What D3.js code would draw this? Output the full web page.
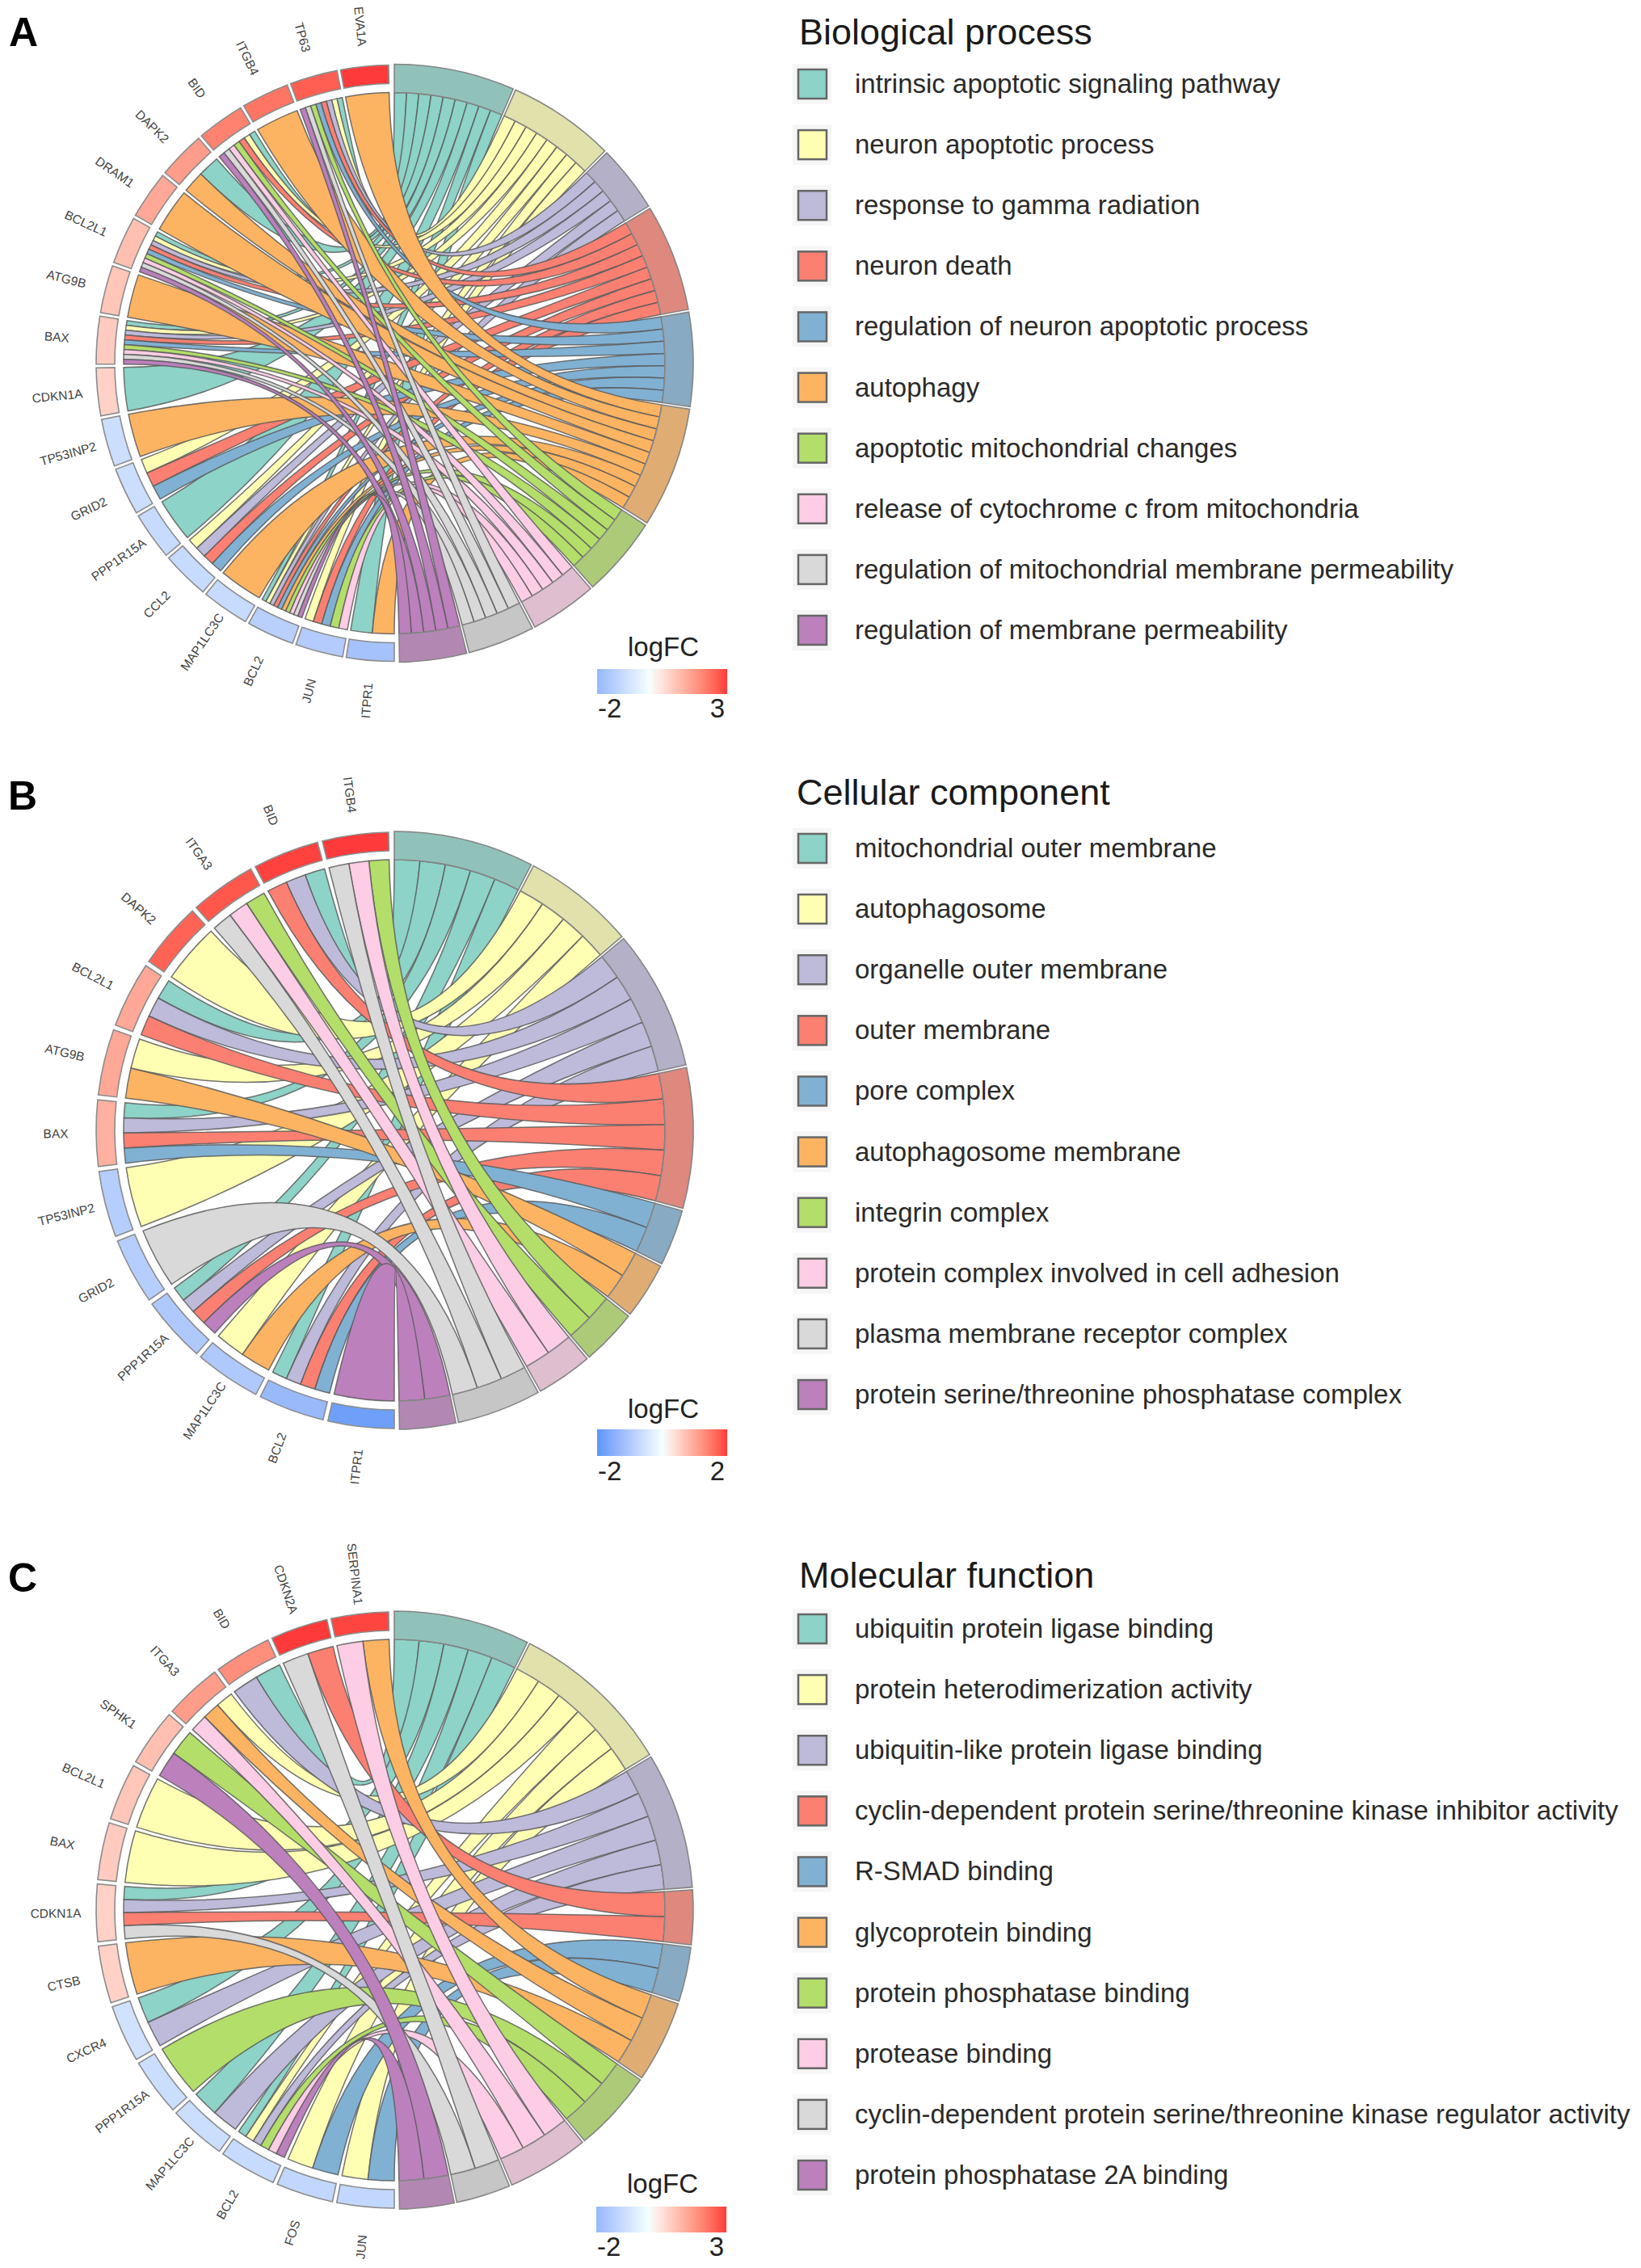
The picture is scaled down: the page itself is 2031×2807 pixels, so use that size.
<!DOCTYPE html>
<html><head><meta charset="utf-8">
<style>html,body{margin:0;padding:0;background:#fff}svg{display:block}text{font-family:"Liberation Sans",Arial,sans-serif}</style>
<script src="https://cdnjs.cloudflare.com/ajax/libs/d3/7.8.5/d3.min.js"></script>
</head><body><svg id="c" width="2031" height="2807"></svg>
<script>
const termColors=["#8DD3C7","#FFFFB3","#BEBADA","#FB8072","#80B1D3","#FDB462","#B3DE69","#FCCDE5","#D9D9D9","#BC80BD"];

const titleA="Biological process";
const termsA=["intrinsic apoptotic signaling pathway","neuron apoptotic process","response to gamma radiation","neuron death","regulation of neuron apoptotic process","autophagy","apoptotic mitochondrial changes","release of cytochrome c from mitochondria","regulation of mitochondrial membrane permeability","regulation of membrane permeability"];
const genesA=["EVA1A","TP63","ITGB4","BID","DAPK2","DRAM1","BCL2L1","ATG9B","BAX","CDKN1A","TP53INP2","GRID2","PPP1R15A","CCL2","MAP1LC3C","BCL2","JUN","ITPR1"];
const logfcA=[3,2.6,2.3,2.1,1.7,1.5,1.1,1,0.9,0.8,-0.9,-0.9,-1,-1,-1,-1.3,-1.4,-1.7];
const linksA=[[5],[0,1,2,3,4,6,8,9],[5],[0,1,3,6,7,8,9],[0,5],[5],[0,1,2,3,4,6,7,8,9],[5],[0,1,2,3,4,6,7,8,9],[0],[5],[1,3,4],[0],[1,2,3,4],[5],[0,1,2,3,4,5,6,7,8,9],[1,3,4,6,7],[0,5]];

const titleB="Cellular component";
const termsB=["mitochondrial outer membrane","autophagosome","organelle outer membrane","outer membrane","pore complex","autophagosome membrane","integrin complex","protein complex involved in cell adhesion","plasma membrane receptor complex","protein serine/threonine phosphatase complex"];
const genesB=["ITGB4","BID","ITGA3","DAPK2","BCL2L1","ATG9B","BAX","TP53INP2","GRID2","PPP1R15A","MAP1LC3C","BCL2","ITPR1"];
const logfcB=[2,1.95,1.8,1.7,1,1,0.9,-0.9,-0.9,-1,-1,-1.3,-1.8];
const linksB=[[6,7,8],[0,2,3],[6,7,8],[1],[0,2,3],[1,5],[0,2,3,4],[1],[8],[0,2,3,9],[1,5],[0,2,3,4],[9]];

const titleC="Molecular function";
const termsC=["ubiquitin protein ligase binding","protein heterodimerization activity","ubiquitin-like protein ligase binding","cyclin-dependent protein serine/threonine kinase inhibitor activity","R-SMAD binding","glycoprotein binding","protein phosphatase binding","protease binding","cyclin-dependent protein serine/threonine kinase regulator activity","protein phosphatase 2A binding"];
const genesC=["SERPINA1","CDKN2A","BID","ITGA3","SPHK1","BCL2L1","BAX","CDKN1A","CTSB","CXCR4","PPP1R15A","MAP1LC3C","BCL2","FOS","JUN"];
const logfcC=[2.9,3,1.9,1.7,1.1,1,0.9,0.8,0.8,-0.8,-0.9,-0.9,-1,-1.1,-1.1];
const linksC=[[5,7],[3,8],[0,2],[1,5,7],[6,9],[1],[1],[0,2,3,8],[5],[0,2],[6],[0,2],[0,1,2,6,7,9],[1,4],[1,4]];

const panels=[
 {letter:"A",lx:11,ly:57,cx:488,cy:449.5,title:titleA,terms:termsA,genes:genesA,logfc:logfcA,links:linksA,lo:-2,hi:3,tx:989,ty:55,row0:104,row1:780,barY:828,barH:31,nameY:812,tickY:889,barX:739},
 {letter:"B",lx:10,ly:1002,cx:488,cy:1399,title:titleB,terms:termsB,genes:genesB,logfc:logfcB,links:linksB,lo:-2,hi:2,tx:986,ty:996,row0:1050,row1:1726,barY:1769,barH:33,nameY:1755,tickY:1833,barX:739},
 {letter:"C",lx:10,ly:1970,cx:488,cy:2364,title:titleC,terms:termsC,genes:genesC,logfc:logfcC,links:linksC,lo:-2,hi:3,tx:989,ty:1965,row0:2016,row1:2692,barY:2731,barH:32,nameY:2714,tickY:2793,barX:738}
];

const svg=d3.select("#c");
const defs=svg.append("defs");
const rad=d=>d*Math.PI/180;
const R={termOuter:370,termInner:335,geneOuter:369,geneInner:346,ribbonGene:335,ribbonTerm:335,label:419};
const ringColor=c=>d3.interpolateRgb(c,"#9a9a9a")(0.3);

panels.forEach((p,pi)=>{
  const M=Math.max(Math.abs(p.lo),Math.abs(p.hi));
  const fc=d3.scaleLinear().domain([-M,0,M]).range(["#5A96F8","#F4FFFF","#FF3A3A"]).interpolate(d3.interpolateLab);

  const counts=p.terms.map((_,t)=>d3.sum(p.links,l=>l.includes(t)?1:0));
  const total=d3.sum(counts), gap=0.5;
  const unit=d3.scaleLinear().domain([0,total]).range([0,179-gap*(p.terms.length-1)]);
  let acc=0;
  const termArcs=counts.map((n,t)=>{const a0=unit(acc)+gap*t;acc+=n;return {t,a0,a1:unit(acc)+gap*t,n};});

  const band=d3.scaleBand().domain(p.genes).range([358.9,180]).paddingInner(0.07);
  const bw=band.bandwidth();

  const used=counts.map(()=>0);
  const ribbons=[];
  p.genes.forEach((g,gi)=>{
    const ls=p.links[gi];
    const top=band(g)+bw;
    ls.forEach((t,k)=>{
      const s1=top-k*bw/ls.length, s0=top-(k+1)*bw/ls.length;
      const arc=termArcs[t];
      const w=(arc.a1-arc.a0)/arc.n;
      const t0=arc.a0+used[t]*w; used[t]++;
      ribbons.push({t,gi,source:{startAngle:rad(s0),endAngle:rad(s1)},target:{startAngle:rad(t0),endAngle:rad(t0+w)}});
    });
  });
  ribbons.sort((a,b)=>d3.ascending(a.t,b.t)||d3.ascending(a.gi,b.gi));

  const g=svg.append("g").attr("transform",`translate(${p.cx},${p.cy})`);
  const ribbon=d3.ribbon().sourceRadius(R.ribbonGene).targetRadius(R.ribbonTerm);
  g.append("g").selectAll("path").data(ribbons).join("path")
    .attr("d",ribbon).attr("fill",d=>termColors[d.t])
    .attr("stroke","#5a5a5a").attr("stroke-opacity",0.85).attr("stroke-width",1.5);

  const arcTerm=d3.arc().innerRadius(R.termInner).outerRadius(R.termOuter);
  g.append("g").selectAll("path").data(termArcs).join("path")
    .attr("d",d=>arcTerm({startAngle:rad(d.a0),endAngle:rad(d.a1)}))
    .attr("fill",d=>ringColor(termColors[d.t])).attr("stroke","#858585").attr("stroke-width",1.6);

  const arcGene=d3.arc().innerRadius(R.geneInner).outerRadius(R.geneOuter);
  g.append("g").selectAll("path").data(p.genes).join("path")
    .attr("d",d=>arcGene({startAngle:rad(band(d)),endAngle:rad(band(d)+bw)}))
    .attr("fill",(d,i)=>fc(p.logfc[i])).attr("stroke","#8c8c8c").attr("stroke-width",1.6);

  g.append("g").selectAll("text").data(p.genes).join("text")
    .attr("transform",d=>{
      const th=rad(band(d)+bw/2), x=R.label*Math.sin(th), y=-R.label*Math.cos(th);
      const rot=Math.atan2(Math.cos(th),-Math.sin(th))*180/Math.PI;
      return `translate(${x},${y}) rotate(${rot})`;
    })
    .attr("text-anchor","middle").attr("dy","0.35em")
    .attr("font-size",15.5).attr("fill","#444").text(d=>d);

  // panel letter
  svg.append("text").attr("x",p.lx).attr("y",p.ly).attr("font-size",50).attr("font-weight","bold").attr("fill","#000").text(p.letter);

  // term legend
  svg.append("text").attr("x",p.tx).attr("y",p.ty).attr("font-size",45).attr("fill","#1a1a1a").text(p.title);
  const rowY=d3.scalePoint().domain(p.terms).range([p.row0,p.row1]);
  const leg=svg.append("g").selectAll("g").data(p.terms).join("g");
  leg.append("rect").attr("x",981).attr("y",d=>rowY(d)-25).attr("width",48).attr("height",50).attr("fill","#f6f6f6");
  leg.append("rect").attr("x",988).attr("y",d=>rowY(d)-18).attr("width",35).attr("height",36)
    .attr("fill",(d,i)=>termColors[i]).attr("stroke","#666").attr("stroke-width",2.5);
  leg.append("text").attr("x",1058).attr("y",d=>rowY(d)+11).attr("font-size",33).attr("fill","#2a2a2a").text(d=>d);

  // logFC legend
  const gid="grad"+pi;
  const grad=defs.append("linearGradient").attr("id",gid);
  d3.range(0,1.0001,0.05).forEach(t=>{
    grad.append("stop").attr("offset",t).attr("stop-color",fc(p.lo+(p.hi-p.lo)*t));
  });
  const barW=161;
  const cs=d3.scaleLinear().domain([p.lo,p.hi]).range([p.barX,p.barX+barW]);
  svg.append("rect").attr("x",cs(p.lo)).attr("y",p.barY).attr("width",barW).attr("height",p.barH).attr("fill",`url(#${gid})`);
  svg.append("text").attr("x",p.barX+82).attr("y",p.nameY).attr("text-anchor","middle").attr("font-size",33).attr("fill","#222").text("logFC");
  svg.append("text").attr("x",cs(p.lo)+1).attr("y",p.tickY-1).attr("font-size",33).attr("fill","#222").text(p.lo);
  svg.append("text").attr("x",cs(p.hi)-3).attr("y",p.tickY-1).attr("text-anchor","end").attr("font-size",33).attr("fill","#222").text(p.hi);
});
</script></body></html>
